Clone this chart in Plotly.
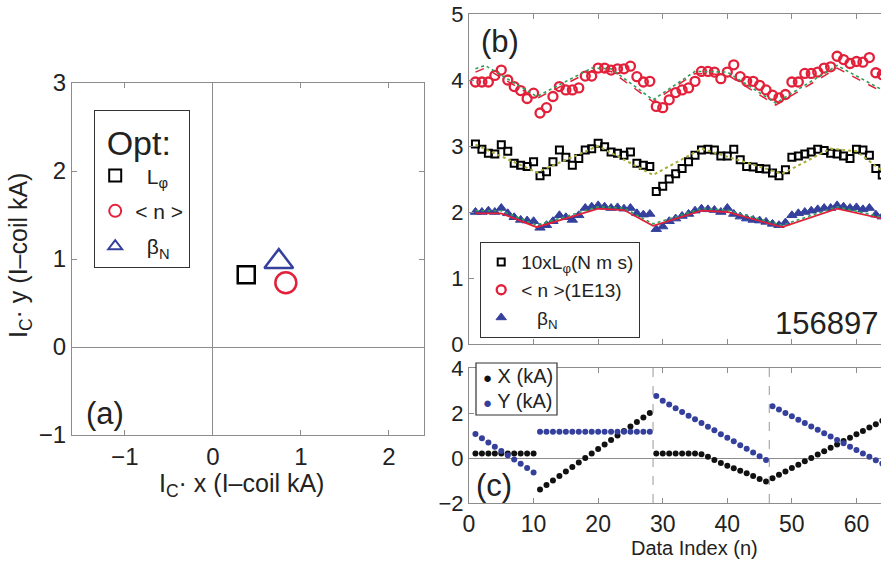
import plotly.graph_objects as go

# ---------------- data ----------------
# (a) optimal I-coil settings found for each target quantity
OPT_NAMES = ["\u00a0\u00a0L<sub>φ</sub>", "< n >", "\u00a0\u00a0β<sub>N</sub>"]
OPT_X = [0.38, 0.83, 0.75]
OPT_Y = [0.82, 0.73, 0.97]

# (b) measured responses versus data index
INDEX = list(range(1, 65))
LPHI_10X = [3.03, 2.95, 2.89, 2.88, 3.02, 2.92, 2.74, 2.71, 2.69, 2.76,
            2.55, 2.61, 2.76, 2.94, 2.83, 2.71, 2.81, 2.94, 2.96, 3.04,
            2.99, 2.91, 2.89, 2.86, 2.91, 2.74, 2.71, 2.69,
            2.31, 2.39, 2.50, 2.58, 2.66, 2.76, 2.86, 2.94, 2.95, 2.94,
            2.85, 2.85, 2.95, 2.79, 2.69, 2.68, 2.66, 2.65, 2.59, 2.55, 2.64,
            2.83, 2.85, 2.88, 2.91, 2.95, 2.93, 2.89, 2.88, 2.85, 2.81,
            2.95, 2.94, 2.86, 2.66, 2.56]
DENSITY = [3.97, 3.97, 3.97, 4.07, 4.15, 4.00, 3.90, 3.84, 3.72, 3.80,
           3.50, 3.58, 3.75, 3.90, 3.85, 3.85, 3.88, 4.06, 4.06, 4.18,
           4.18, 4.15, 4.17, 4.17, 4.21, 4.05, 3.97, 3.98,
           3.60, 3.58, 3.70, 3.81, 3.85, 3.88, 3.98, 4.13, 4.13, 4.12,
           4.02, 4.12, 4.23, 4.05, 3.98, 3.98, 3.92, 3.85, 3.77, 3.73, 3.78,
           3.97, 3.97, 4.10, 4.10, 4.12, 4.18, 4.20, 4.36, 4.31, 4.25,
           4.28, 4.27, 4.34, 4.11, 4.08]
BETA_N = [2.00, 2.00, 2.02, 2.00, 2.06, 1.98, 1.92, 1.88, 1.87, 1.86,
          1.76, 1.80, 1.86, 1.95, 1.92, 1.88, 1.95, 2.06, 2.08, 2.10,
          2.08, 2.06, 2.07, 2.05, 2.06, 1.98, 1.96, 1.97,
          1.74, 1.78, 1.86, 1.90, 1.94, 1.97, 2.02, 2.05, 2.04, 2.03,
          2.00, 2.06, 1.97, 1.93, 1.90, 1.88, 1.87, 1.85, 1.82, 1.80, 1.84,
          1.95, 1.98, 2.00, 2.02, 2.04, 2.06, 2.06, 2.10, 2.08, 2.06,
          2.07, 2.04, 2.06, 1.96, 1.93]

# model fits (break points of the piecewise response)
DENS_FIT_IDX = [1, 2.5, 10.5, 19, 22, 28.5, 35, 40, 47.5, 57, 64]
DENS_FIT = [4.17, 4.22, 3.75, 4.18, 4.17, 3.70, 4.13, 4.12, 3.65, 4.22, 3.85]
DENS_EST = [4.12, 4.18, 3.72, 4.14, 4.13, 3.67, 4.10, 4.08, 3.62, 4.18, 3.82]
LPHI_FIT_IDX = [1, 10.5, 20, 28.5, 36, 48.5, 56, 60, 64]
LPHI_FIT = [3.02, 2.60, 3.00, 2.56, 2.96, 2.58, 2.96, 2.92, 2.62]
BETA_FIT_IDX = [1, 5, 10.5, 20, 24, 28.5, 36, 40, 48.5, 57, 64]
BETA_FIT = [2.02, 2.02, 1.80, 2.08, 2.06, 1.82, 2.05, 2.03, 1.80, 2.08, 1.92]
BETA_EST = [1.98, 1.98, 1.77, 2.05, 2.03, 1.79, 2.02, 2.00, 1.77, 2.05, 1.90]

# (c) applied I-coil field components
COIL_X = [0.2] * 10 + [
    -1.4, -1.2, -1.0, -0.8, -0.6, -0.4, -0.2, 0.0, 0.2, 0.4,
    0.6, 0.8, 1.0, 1.2, 1.4, 1.6, 1.8, 2.0,
    0.2, 0.2, 0.2, 0.2, 0.2, 0.2, 0.2, 0.17, 0.05, -0.09,
    -0.22, -0.35, -0.46, -0.57, -0.68, -0.8, -0.93, -1.05,
    -0.9, -0.75, -0.6, -0.45, -0.3, -0.15, 0.0, 0.15, 0.3, 0.45,
    0.6, 0.75, 0.9, 1.05, 1.2, 1.35, 1.5, 1.65]
COIL_Y = [1.07, 0.88, 0.69, 0.5, 0.31, 0.12, -0.07, -0.26, -0.45, -0.65] + [1.17] * 18 + [
    2.75, 2.54, 2.38, 2.21, 2.05, 1.88, 1.72, 1.56, 1.39, 1.23,
    1.06, 0.9, 0.74, 0.57, 0.41, 0.24, 0.08, -0.09,
    2.3, 2.15, 2.0, 1.85, 1.7, 1.55, 1.4, 1.25, 1.1, 0.95,
    0.8, 0.65, 0.5, 0.35, 0.2, 0.05, -0.1, -0.25]
SEGMENT_BREAKS = [28.5, 46.5]
SHOT = "156897"

# ---------------- style ----------------
FONT = "Liberation Sans, Arial, Helvetica, sans-serif"
RED = "#e3203a"
BLUE = "#34409c"
GREEN = "#2f9e57"
OLIVE = "#a9ad3a"
AXC = "#8c8c8c"

W, H = 881, 561


def px_x(p):
    return p / W


def px_y(p):
    return 1 - p / H


fig = go.Figure()

# ---- panel (a)
opt_symbols = ["square-open", "circle-open", "triangle-up-open"]
opt_colors = ["black", RED, BLUE]
opt_sizes = [17, 21, 25]
for i in range(3):
    fig.add_trace(go.Scatter(
        x=[OPT_X[i]], y=[OPT_Y[i]], mode="markers", name=OPT_NAMES[i],
        marker=dict(symbol=opt_symbols[i], color=opt_colors[i], size=opt_sizes[i],
                    line=dict(width=2.5, color=opt_colors[i])),
        xaxis="x", yaxis="y", legend="legend", legendgroup=f"a{i}"))

# ---- panel (b)
fig.add_trace(go.Scatter(
    x=INDEX, y=LPHI_10X, mode="markers", name="10xL<sub>φ</sub>(N m s)",
    marker=dict(symbol="square-open", size=7, color="black", line=dict(width=2, color="black")),
    xaxis="x2", yaxis="y2", legend="legend2"))
fig.add_trace(go.Scatter(
    x=INDEX, y=DENSITY, mode="markers", name="< n >(1E13)",
    marker=dict(symbol="circle-open", size=9, color=RED, line=dict(width=2.3, color=RED)),
    xaxis="x2", yaxis="y2", legend="legend2"))
fig.add_trace(go.Scatter(
    x=INDEX, y=BETA_N, mode="markers", name="\u00a0\u00a0\u00a0β<sub>N</sub>",
    marker=dict(symbol="triangle-up", size=9, color=BLUE, line=dict(width=1, color=BLUE)),
    xaxis="x2", yaxis="y2", legend="legend2"))

fig.add_trace(go.Scatter(x=DENS_FIT_IDX, y=DENS_EST, mode="lines", showlegend=False,
                         line=dict(color=RED, width=1.5, dash="dash"), xaxis="x2", yaxis="y2"))
fig.add_trace(go.Scatter(x=DENS_FIT_IDX, y=DENS_FIT, mode="lines", showlegend=False,
                         line=dict(color=GREEN, width=1.6, dash="dot"), xaxis="x2", yaxis="y2"))
fig.add_trace(go.Scatter(x=LPHI_FIT_IDX, y=LPHI_FIT, mode="lines", showlegend=False,
                         line=dict(color=OLIVE, width=2, dash="dot"), xaxis="x2", yaxis="y2"))
fig.add_trace(go.Scatter(x=BETA_FIT_IDX, y=BETA_EST, mode="lines", showlegend=False,
                         line=dict(color=RED, width=1.8), xaxis="x2", yaxis="y2"))
fig.add_trace(go.Scatter(x=BETA_FIT_IDX, y=BETA_FIT, mode="lines", showlegend=False,
                         line=dict(color=GREEN, width=1.6, dash="dot"), xaxis="x2", yaxis="y2"))

# ---- panel (c)
fig.add_trace(go.Scatter(x=INDEX, y=COIL_X, mode="markers", showlegend=False,
                         marker=dict(size=6, color="#111111"), xaxis="x3", yaxis="y3"))
fig.add_trace(go.Scatter(x=INDEX, y=COIL_Y, mode="markers", showlegend=False,
                         marker=dict(size=6, color=BLUE), xaxis="x3", yaxis="y3"))

for b in SEGMENT_BREAKS:
    fig.add_shape(type="line", xref="x3", yref="y3 domain", x0=b, x1=b, y0=0, y1=1,
                  line=dict(color="#999999", width=1, dash="dash"))

# legend box for panel (c)
fig.add_shape(type="rect", xref="paper", yref="paper",
              x0=px_x(476), x1=px_x(557), y0=px_y(415), y1=px_y(363),
              line=dict(color="#333333", width=1.2), fillcolor="white")

tick_common = dict(ticks="inside", ticklen=5, tickcolor=AXC, showline=True, linecolor=AXC,
                   linewidth=1, showgrid=False)

fig.update_layout(
    width=W, height=H, margin=dict(l=0, r=0, t=0, b=0),
    paper_bgcolor="white", plot_bgcolor="white",
    font=dict(family=FONT, color="#222222"),
    showlegend=True,
    xaxis=dict(domain=[px_x(72), px_x(424)], range=[-1.6, 2.4], tickvals=[-1, 0, 1, 2],
               mirror="ticks", zeroline=True, zerolinecolor=AXC, zerolinewidth=1,
               tickfont=dict(size=24), anchor="y", automargin=False, **tick_common),
    yaxis=dict(domain=[px_y(435), px_y(83)], range=[-1, 3], tickvals=[-1, 0, 1, 2, 3],
               mirror="ticks", zeroline=True, zerolinecolor=AXC, zerolinewidth=1,
               tickfont=dict(size=24), anchor="x", automargin=False, **tick_common),
    xaxis2=dict(domain=[px_x(469), 1.0], range=[0, 63.8], tickvals=[10, 20, 30, 40, 50, 60],
                showticklabels=False, mirror="ticks", zeroline=False, anchor="y2",
                automargin=False, **tick_common),
    yaxis2=dict(domain=[px_y(344), px_y(14)], range=[0, 5], tickvals=[0, 1, 2, 3, 4, 5],
                mirror=False, zeroline=False, tickfont=dict(size=22), anchor="x2",
                automargin=False, **tick_common),
    xaxis3=dict(domain=[px_x(469), 1.0], range=[0, 63.8], tickvals=[0, 10, 20, 30, 40, 50, 60],
                mirror="ticks", zeroline=False, tickfont=dict(size=23), anchor="y3",
                automargin=False, ticklabelstandoff=0, **tick_common),
    yaxis3=dict(domain=[px_y(503), px_y(368)], range=[-2, 4], tickvals=[-2, 0, 2, 4],
                mirror=False, zeroline=True, zerolinecolor=AXC, zerolinewidth=1,
                tickfont=dict(size=22), anchor="x3", automargin=False, **tick_common),
    legend=dict(x=px_x(94), y=px_y(110), xanchor="left", yanchor="top",
                bgcolor="white", bordercolor="#333333", borderwidth=1.2,
                font=dict(size=21), itemsizing="constant", tracegroupgap=5,
                title=dict(text="\u00a0Opt:", font=dict(size=34))),
    legend2=dict(x=px_x(480), y=px_y(242), xanchor="left", yanchor="top",
                 bgcolor="white", bordercolor="#333333", borderwidth=1.2,
                 font=dict(size=19), tracegroupgap=2),
)

annotations = [
    # axis titles
    dict(text="I<sub>C</sub>· x (I–coil kA)", x=px_x(241), y=px_y(485), font=dict(size=25)),
    dict(text="I<sub>C</sub>· y (I–coil kA)", x=px_x(20), y=px_y(256), font=dict(size=25),
         textangle=-90),
    dict(text="Data Index (n)", x=px_x(694), y=px_y(548), font=dict(size=20)),
    # panel tags
    dict(text="(a)", x=px_x(105), y=px_y(413), font=dict(size=31)),
    dict(text="(b)", x=px_x(500), y=px_y(42), font=dict(size=31)),
    dict(text="(c)", x=px_x(494), y=px_y(485), font=dict(size=31)),
    dict(text=SHOT, x=px_x(826), y=px_y(323), font=dict(size=31)),
    # legend entries for panel (c)
    dict(text="<span style='color:#111111;font-size:15px'>●</span> X (kA)", x=px_x(481),
         y=px_y(376), xanchor="left", font=dict(size=20)),
    dict(text=f"<span style='color:{BLUE};font-size:15px'>●</span> Y (kA)", x=px_x(481),
         y=px_y(401), xanchor="left", font=dict(size=20)),
]
for a in annotations:
    a.setdefault("xanchor", "center")
    fig.add_annotation(xref="paper", yref="paper", showarrow=False, yanchor="middle", **a)

fig.write_html("out.html")
